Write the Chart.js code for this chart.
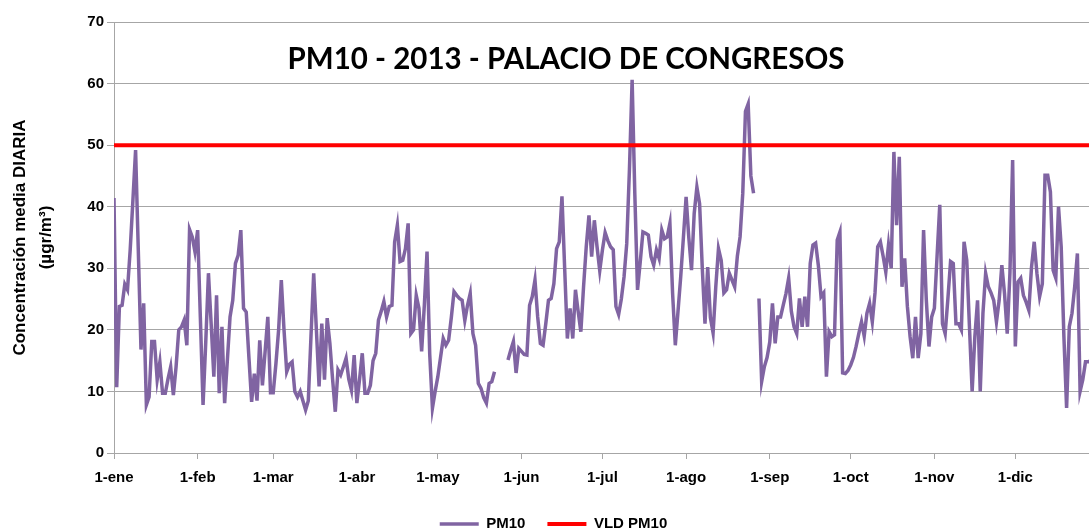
<!DOCTYPE html>
<html><head><meta charset="utf-8">
<script src="https://cdn.jsdelivr.net/npm/chart.js@4/dist/chart.umd.min.js"></script>
<style>html,body{margin:0;padding:0;background:#fff}canvas{display:block}</style>
</head><body>
<canvas id="c" width="1089" height="532"></canvas>
<script>
// Day-of-year index of each x tick and its label
const monthTickDays = [0, 31, 59, 90, 120, 151, 181, 212, 243, 273, 304, 334];
const monthTickLabels = ['1-ene', '1-feb', '1-mar', '1-abr', '1-may', '1-jun', '1-jul', '1-ago', '1-sep', '1-oct', '1-nov', '1-dic'];

// Daily PM10 (µg/m³), one array per month
const pm10Ene = [41.4, 10.7, 23.8, 24, 27.4, 26.5, 33, 41, 49.2, 33, 16.8, 24.3, 7.8, 9.1, 18.1, 18.1, 11.9, 14.8, 9.7, 9.7, 12, 14, 9.4, 14, 20, 20.5, 21.6, 17.5, 36.3, 35.1, 32.7];
const pm10Feb = [36.2, 22, 7.8, 18, 29.2, 21, 12.4, 25.6, 9.7, 20.5, 8.1, 15, 22.1, 24.8, 30.8, 32.1, 36.2, 23.5, 22.9, 15.5, 8.3, 12.9, 8.5, 18.3, 11, 16.5, 22.1, 9.8];
const pm10Mar = [9.8, 14.5, 20, 28.1, 20, 13.2, 14.4, 14.8, 10, 9.1, 10, 8.5, 7, 8.5, 19, 29.2, 20, 10.8, 21, 11.9, 21.9, 17.8, 12, 6.7, 13.5, 12.7, 14, 15.4, 12, 10.2, 15.9];
const pm10Abr = [8.1, 12, 16.2, 9.7, 9.7, 11, 15, 16.2, 21.6, 23, 24.6, 22.1, 23.8, 24, 34.3, 37, 31.1, 31.3, 33.2, 37.3, 19.4, 20, 25.6, 23.5, 16.5, 24, 32.7, 16, 7.3, 10];
const pm10May = [12.4, 15.5, 18.6, 17.5, 18.3, 22, 26.2, 25.6, 25.1, 24.8, 21.5, 24, 25.9, 19.4, 17.5, 11.3, 10.5, 9, 8.1, 11.3, 11.6, 13.2, null, null, null, null, 15.1, 16.7, 18.1, 13, 17];
const pm10Jun = [16.5, 16, 15.9, 24, 25.4, 28.1, 22.1, 17.8, 17.5, 21, 24.8, 25.1, 27.5, 33.2, 34.3, 41.7, 30, 18.6, 23.5, 18.6, 26.5, 23, 19.7, 27, 33.5, 38.6, 31.9, 37.8, 33.5, 29.6];
const pm10Jul = [33, 35.8, 34.5, 33.5, 33, 23.8, 22.5, 25, 28.6, 34, 46, 60.6, 42, 26.5, 31, 35.9, 35.7, 35.4, 31.9, 30.5, 33, 31.6, 36.2, 34.8, 35.1, 37.3, 25.9, 17.5, 23, 28.6, 35];
const pm10Ago = [41.6, 35, 29.7, 38.9, 43.2, 40.5, 30, 21, 30.2, 22, 19.5, 27, 33.2, 31.3, 26, 26.5, 29.2, 28.1, 27, 32, 35.1, 42.2, 55.5, 56.7, 45, 42.2, null, 25.1, 11.6, 14, 15.5];
const pm10Sep = [18, 24.3, 17.8, 22.1, 22.1, 24, 25.9, 28.4, 23, 20.5, 19.4, 25.1, 20.5, 25.4, 20.5, 30.8, 33.8, 34.1, 30.5, 25.4, 26, 12.4, 19.7, 18.9, 19.2, 34.6, 35.9, 13, 12.9, 13.4];
const pm10Oct = [14.3, 15.5, 17.3, 19.4, 21.3, 19, 22.7, 24.3, 21.3, 26, 33.5, 34.3, 32, 29.4, 33.8, 30, 48.9, 37, 48.1, 27, 31.6, 23.8, 18.9, 15.4, 22.1, 15.4, 19.4, 36.2, 25, 17.3, 22.1];
const pm10Nov = [23.5, 32, 40.3, 21, 19.4, 25, 31.1, 30.8, 21, 21, 20, 34.3, 31.3, 20.5, 10, 18.9, 24.8, 10, 22.7, 29.2, 27, 26, 24.8, 21.3, 24.8, 30.5, 25.9, 19.4, 29.2, 47.6];
const pm10Dic = [17.3, 27.8, 28.4, 25.6, 24.5, 23.2, 30.2, 34.3, 29.2, 25.4, 27.5, 45.1, 45.1, 42.4, 29.7, 28.4, 40, 33.5, 18.9, 7.3, 20.5, 22.7, 27, 32.4, 10, 11.9, 14.8, 14.8, 15, 15.5, 16];

// Limit value (VLD PM10)
const vldDays = [0, 364];
const vldValues = [50, 50];

const chartTitle = 'PM10 - 2013 - PALACIO DE CONGRESOS';
const yTitleLines = ['Concentración media DIARIA', '(µgr/m³)'];

const pm10 = [].concat(pm10Ene, pm10Feb, pm10Mar, pm10Abr, pm10May, pm10Jun, pm10Jul, pm10Ago, pm10Sep, pm10Oct, pm10Nov, pm10Dic);

const titlePlugin = {
  id: 'insideTitle',
  afterDraw(chart) {
    const ctx = chart.ctx;
    ctx.save();
    ctx.font = 'bold 29.5px Lato';
    ctx.fillStyle = '#000';
    ctx.textAlign = 'center';
    ctx.textBaseline = 'middle';
    ctx.fillText(chartTitle, 566, 59);
    ctx.restore();
  }
};

// move the bottom legend down to the canvas foot and slightly right
const legendShift = {
  id: 'legendShift',
  afterLayout(chart) {
    const lg = chart.legend;
    if (!lg) return;
    const cur = lg.top + lg.options.labels.padding + lg.options.labels.font.size / 2;
    const d = 524 - cur;
    lg.top += d; lg.bottom += d;
    lg.left += 9; lg.right += 9;
  }
};

const gridGray = '#a6a6a6';
const tickFont = { family: 'Liberation Sans', weight: 'bold', size: 15 };

new Chart(document.getElementById('c'), {
  type: 'line',
  data: {
    datasets: [
      {
        label: 'PM10',
        data: pm10.map((v, i) => ({ x: i, y: v })),
        borderColor: '#8064A2', backgroundColor: '#8064A2',
        borderWidth: 3.5, pointRadius: 0, tension: 0, spanGaps: false, order: 2
      },
      {
        label: 'VLD PM10',
        data: vldDays.map((d, i) => ({ x: d, y: vldValues[i] })),
        borderColor: '#FF0000', backgroundColor: '#FF0000',
        borderWidth: 4, pointRadius: 0, order: 1
      }
    ]
  },
  options: {
    responsive: false,
    animation: false,
    layout: { padding: { top: 22, right: 0, bottom: 0, left: 0 } },
    plugins: {
      legend: {
        position: 'bottom',
        labels: {
          usePointStyle: true, pointStyle: 'line', pointStyleWidth: 39,
          padding: 22, color: '#000',
          font: { family: 'Liberation Sans', weight: 'bold', size: 15 },
          sort: (a, b) => a.datasetIndex - b.datasetIndex
        }
      },
      tooltip: { enabled: false }
    },
    scales: {
      x: {
        type: 'linear', min: 0, max: 361.3,
        afterBuildTicks(s) { s.ticks = monthTickDays.map(v => ({ value: v })); },
        afterFit(s) { s.height = 532 - 453 - s.chart.legend.height; },
        ticks: {
          autoSkip: false, maxRotation: 0, minRotation: 0, padding: 10, color: '#000', font: tickFont,
          callback(v) { const i = monthTickDays.indexOf(v); return i >= 0 ? monthTickLabels[i] : ''; }
        },
        grid: { drawOnChartArea: false, drawTicks: true, tickLength: 6, color: gridGray },
        border: { color: gridGray, width: 1 }
      },
      y: {
        min: 0, max: 70,
        afterFit(s) { s.width = 114; },
        ticks: { stepSize: 10, padding: 3, color: '#000', font: tickFont },
        grid: { color: gridGray, tickLength: 7, drawTicks: true },
        border: { color: gridGray, width: 1 },
        title: {
          display: true, text: yTitleLines, color: '#000',
          font: { family: 'Liberation Sans', weight: 'bold', size: 17, lineHeight: 1.55 },
          padding: { top: 7, bottom: 0 }
        }
      }
    }
  },
  plugins: [titlePlugin, legendShift]
});
</script>
</body></html>
